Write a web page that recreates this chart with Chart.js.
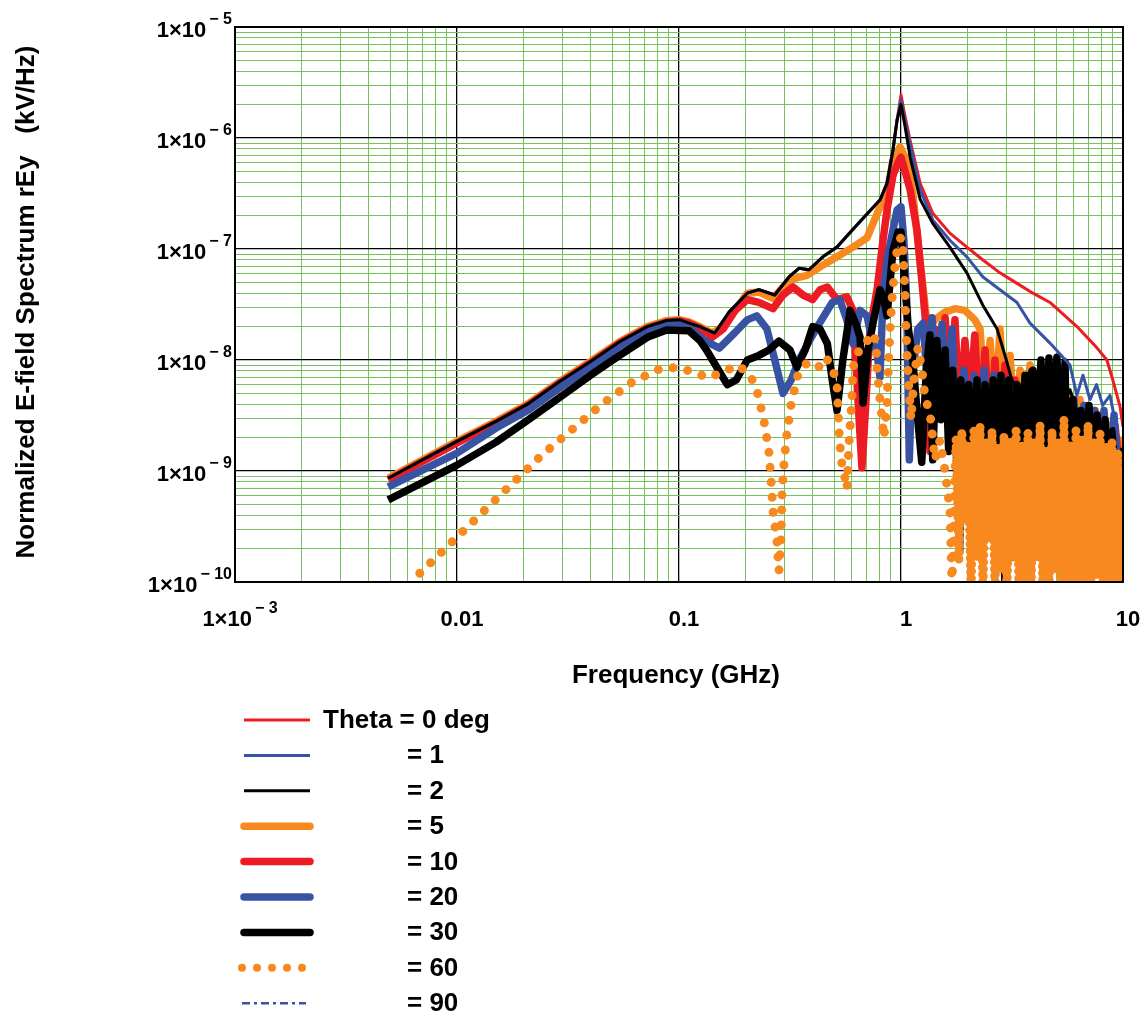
<!DOCTYPE html>
<html>
<head>
<meta charset="utf-8">
<script src="https://cdn.jsdelivr.net/npm/chart.js@4.4.0/dist/chart.umd.min.js"></script>
<style>
  html, body { margin: 0; padding: 0; background: #fff; }
  canvas { display: block; }
</style>
</head>
<body>
<canvas id="spectrum" width="1145" height="1014"></canvas>
<script>
// normalized E-field spectrum rEy (kV/Hz) against frequency (GHz), one trace per angle

const thetaLabels = ['Theta = 0 deg', '= 1', '= 2', '= 5', '= 10', '= 20', '= 30', '= 60', '= 90']

// the thin traces (0, 1, 2 deg) sit on top of each other up to the resonance
const riseF = [0.0049, 0.01, 0.015, 0.021, 0.029, 0.04, 0.054, 0.072, 0.088, 0.101,
  0.111, 0.124, 0.145, 0.168, 0.203, 0.229, 0.27, 0.313, 0.347, 0.385,
  0.445, 0.515, 0.608, 0.703, 0.804, 0.865, 0.92, 0.96]
const riseV = [8.6e-10, 1.85e-9, 2.8e-9, 4.05e-9, 6.4e-9, 9.7e-9, 1.46e-8, 2.0e-8, 2.27e-8, 2.3e-8,
  2.15e-8, 2.0e-8, 1.75e-8, 2.7e-8, 4.0e-8, 4.3e-8, 3.85e-8, 5.6e-8, 6.7e-8, 6.5e-8,
  8.5e-8, 1.04e-7, 1.51e-7, 2.07e-7, 2.76e-7, 3.9e-7, 7.8e-7, 1.45e-6]

const f0 = [1.0, 1.04, 1.098, 1.22, 1.39, 1.66, 1.98, 2.34, 2.79, 3.33, 3.93, 4.69, 6.2, 7.6, 8.46, 9.0, 9.7, 10]
const v0 = [2.44e-6, 1.61e-6, 9.6e-7, 3.9e-7, 2.1e-7, 1.39e-7, 1.04e-7, 7.96e-8, 6.1e-8, 4.9e-8, 4.0e-8, 3.3e-8, 2.0e-8, 1.3e-8, 1.0e-8, 6.6e-9, 3.8e-9, 2.5e-9]

const f1 = [1.0, 1.04, 1.10, 1.22, 1.39, 1.66, 1.98, 2.34, 2.79, 3.33, 3.81, 4.69, 5.36, 5.77, 6.2, 6.6, 7.1, 7.6, 8.1, 8.74, 9.4, 10]
const v1 = [2.2e-6, 1.45e-6, 8.6e-7, 3.4e-7, 1.83e-7, 1.2e-7, 8.5e-8, 5.6e-8, 4.3e-8, 3.3e-8, 2.15e-8, 1.42e-8, 1.06e-8, 9.0e-9, 4.8e-9, 7.3e-9, 4.4e-9, 6.0e-9, 3.9e-9, 4.8e-9, 2.3e-9, 5.5e-10]

const f2 = [1.0, 1.04, 1.10, 1.22, 1.39, 1.66, 1.98, 2.34, 2.71, 2.94, 3.16, 3.44, 3.81, 4.23, 4.69, 5.2, 5.77, 6.4, 7.1, 7.88, 8.74, 9.69]
const v2 = [2.0e-6, 1.31e-6, 6.7e-7, 2.8e-7, 1.7e-7, 1.04e-7, 6.1e-8, 3.1e-8, 1.9e-8, 1.1e-8, 6.6e-9, 4.8e-9, 8.1e-9, 4.4e-9, 6.6e-9, 3.5e-9, 5.4e-9, 2.9e-9, 1.9e-9, 1.0e-9, 5.5e-10, 2.4e-10]

const f5 = [0.0049, 0.01, 0.015, 0.021, 0.029, 0.04, 0.054, 0.072, 0.088, 0.101,
  0.111, 0.124, 0.141, 0.158, 0.179, 0.203, 0.229, 0.265, 0.316, 0.377,
  0.432, 0.515, 0.608, 0.703, 0.804, 0.865, 0.92, 0.99,
  1.06, 1.13, 1.19, 1.26, 1.32, 1.42, 1.58, 1.75, 1.94, 2.15,
  2.27, 2.39, 2.52, 2.65, 2.79, 2.94, 3.10, 3.26, 3.44, 3.62,
  3.81, 4.01, 4.23, 4.45, 4.69, 4.94, 5.20, 5.48, 5.77, 6.08,
  6.40, 6.74, 7.10, 7.48, 7.88, 8.30, 8.74, 9.20, 9.69, 10]
const v5 = [8.6e-10, 1.85e-9, 2.8e-9, 4.05e-9, 6.4e-9, 9.7e-9, 1.46e-8, 2.0e-8, 2.27e-8, 2.3e-8,
  2.2e-8, 2.0e-8, 1.75e-8, 2.0e-8, 2.8e-8, 4.0e-8, 4.1e-8, 3.6e-8, 5.3e-8, 5.8e-8,
  6.9e-8, 8.5e-8, 1.04e-7, 1.26e-7, 2.39e-7, 3.2e-7, 6.3e-7, 8.3e-7,
  6.3e-7, 3.2e-7, 1.2e-7, 4.3e-8, 1.9e-8, 2.3e-8, 2.7e-8, 2.9e-8, 2.8e-8, 2.3e-8,
  1.9e-8, 4.4e-9, 1.5e-8, 2.9e-9, 1.9e-8, 3.5e-9, 1.1e-8, 2.3e-9, 8.1e-9, 1.9e-9,
  9.0e-9, 2.3e-9, 7.3e-9, 1.9e-9, 6.6e-9, 1.5e-9, 5.4e-9, 1.9e-9, 4.8e-9, 1.5e-9,
  4.4e-9, 1.26e-9, 3.5e-9, 1.5e-9, 3.2e-9, 1.0e-9, 2.6e-9, 1.0e-9, 1.9e-9, 3.6e-10]

const f10 = [0.0049, 0.01, 0.015, 0.021, 0.029, 0.04, 0.054, 0.072, 0.088, 0.101,
  0.111, 0.124, 0.141, 0.158, 0.179, 0.203, 0.229, 0.265, 0.294, 0.326,
  0.362, 0.4, 0.432, 0.466, 0.515, 0.57, 0.608, 0.64, 0.667, 0.696,
  0.725, 0.78, 0.83, 0.865, 0.92, 0.98, 1.0, 1.04, 1.10, 1.18,
  1.24, 1.30,
  1.35, 1.42, 1.50, 1.58, 1.66, 1.75, 1.84, 1.94, 2.04, 2.15,
  2.27, 2.39, 2.52, 2.65, 2.79, 2.94, 3.10, 3.26, 3.44, 3.62,
  3.81, 4.01, 4.23, 4.45, 4.69, 4.94, 5.20, 5.48, 5.77, 6.08,
  6.40, 6.74, 7.10, 7.48, 7.88, 8.30, 8.74, 9.20, 9.69, 10]
const v10 = [8.3e-10, 1.79e-9, 2.71e-9, 3.93e-9, 6.2e-9, 9.4e-9, 1.42e-8, 1.94e-8, 2.2e-8, 2.25e-8,
  2.15e-8, 1.94e-8, 1.6e-8, 1.9e-8, 2.8e-8, 3.5e-8, 3.3e-8, 2.9e-8, 3.85e-8, 4.55e-8,
  3.85e-8, 3.5e-8, 4.3e-8, 4.55e-8, 3.5e-8, 3.7e-8, 2.8e-8, 4.4e-9, 1.07e-9, 4.4e-9,
  1.9e-8, 4.3e-8, 1.2e-7, 2.25e-7, 4.6e-7, 6.3e-7, 6.7e-7, 5.1e-7, 3.4e-7, 1.48e-7,
  5.3e-8, 1.9e-8,
  1.5e-9, 1.9e-8, 4.4e-9, 2.4e-8, 6.6e-9, 2.3e-8, 2.9e-9, 1.5e-8, 4.4e-9, 1.68e-8,
  2.3e-9, 1.23e-8, 1.9e-9, 1.0e-8, 1.5e-9, 9.0e-9, 2.3e-9, 6.6e-9, 1.6e-10, 6.0e-9,
  1.26e-9, 4.8e-9, 1.5e-9, 5.4e-9, 8.3e-10, 4.8e-9, 1.9e-9, 4.8e-9, 1.0e-9, 3.5e-9,
  1.26e-9, 3.9e-9, 1.0e-9, 3.5e-9, 8.3e-10, 2.9e-9, 1.0e-9, 2.6e-9, 1.0e-9, 8.3e-10]

const f20 = [0.0049, 0.01, 0.015, 0.021, 0.029, 0.04, 0.054, 0.072, 0.088, 0.101,
  0.111, 0.13, 0.152, 0.178, 0.203, 0.224, 0.249, 0.27, 0.294, 0.32,
  0.347, 0.414, 0.49, 0.53, 0.57, 0.608, 0.654, 0.703, 0.74, 0.78,
  0.804, 0.83, 0.865, 0.92, 0.96, 1.0, 1.03, 1.06, 1.09, 1.12,
  1.19, 1.26, 1.31, 1.38, 1.45, 1.53, 1.61, 1.70, 1.79, 1.84,
  1.92, 2.02, 2.13, 2.25, 2.37, 2.49, 2.62, 2.76, 2.91, 3.06,
  3.23, 3.40, 3.58, 3.77, 3.97, 4.18, 4.40, 4.64, 4.89, 5.15,
  5.42, 5.71, 6.01, 6.34, 6.67, 7.03, 7.40, 7.80, 8.21, 8.65,
  9.11, 9.59, 10]
const v20 = [7.2e-10, 1.45e-9, 2.44e-9, 3.55e-9, 5.6e-9, 8.6e-9, 1.33e-8, 1.82e-8, 2.07e-8, 2.1e-8,
  1.98e-8, 1.5e-8, 1.28e-8, 1.75e-8, 2.3e-8, 2.5e-8, 1.9e-8, 1.0e-8, 5.0e-9, 6.6e-9,
  1.0e-8, 1.9e-8, 3.3e-8, 3.5e-8, 2.3e-8, 1.4e-8, 2.8e-8, 2.5e-8, 1.5e-8, 1.15e-8,
  7.0e-9, 3.7e-8, 8.0e-8, 1.48e-7, 2.25e-7, 2.4e-7, 1.2e-7, 3.5e-8, 1.26e-9, 6.6e-9,
  1.9e-8, 2.15e-8, 6.6e-9, 2.4e-8, 5.4e-9, 2.1e-8, 4.4e-9, 1.9e-8, 1.26e-9, 1.9e-10,
  8.1e-9, 1.5e-9, 7.3e-9, 1.9e-9, 8.1e-9, 1.26e-9, 7.3e-9, 1.5e-9, 6.6e-9, 1.0e-9,
  6.0e-9, 5.5e-10, 5.4e-9, 1.26e-9, 6.0e-9, 8.3e-10, 4.8e-9, 1.0e-9, 5.4e-9, 5.5e-10,
  4.8e-9, 1.0e-9, 4.4e-9, 8.3e-10, 3.9e-9, 1.0e-9, 3.5e-9, 6.7e-10, 3.5e-9, 8.3e-10,
  3.2e-9, 6.7e-10, 5.5e-10]

const f30 = [0.0049, 0.01, 0.015, 0.021, 0.029, 0.04, 0.054, 0.072, 0.088, 0.101,
  0.111, 0.124, 0.133, 0.148, 0.165, 0.181, 0.203, 0.229, 0.254, 0.282,
  0.316, 0.34, 0.37, 0.4, 0.432, 0.466, 0.49, 0.515, 0.547, 0.59,
  0.627, 0.654, 0.675, 0.71, 0.748, 0.804, 0.838, 0.865, 0.92, 0.97,
  1.0, 1.03, 1.08, 1.13,
  1.19, 1.24, 1.30, 1.35, 1.39, 1.45, 1.51, 1.58, 1.64, 1.71,
  1.79, 1.86, 1.94, 2.02, 2.11, 2.20, 2.29, 2.39, 2.49, 2.60,
  2.71, 2.82, 2.94, 3.06, 3.20, 3.33, 3.47, 3.62, 3.77, 3.93,
  4.10, 4.27, 4.45, 4.64, 4.84, 5.04, 5.26, 5.48, 5.71, 5.95,
  6.20, 6.47, 6.74, 7.03, 7.32, 7.64, 7.96, 8.30, 8.65, 9.02,
  9.40, 9.79, 10]
const v30 = [5.5e-10, 1.13e-9, 1.82e-9, 2.9e-9, 4.6e-9, 7.3e-9, 1.1e-8, 1.6e-8, 1.86e-8, 1.84e-8,
  1.83e-8, 1.5e-8, 1.23e-8, 8.6e-9, 6.0e-9, 6.6e-9, 1.0e-8, 1.1e-8, 1.23e-8, 1.48e-8,
  1.23e-8, 8.6e-9, 1.23e-8, 2.0e-8, 1.9e-8, 1.4e-8, 6.6e-9, 3.5e-9, 1.0e-8, 2.8e-8,
  2.1e-8, 1.6e-8, 4.1e-9, 1.23e-8, 2.15e-8, 4.3e-8, 3.5e-8, 2.5e-8, 9.8e-8, 1.42e-7,
  1.42e-7, 6.5e-8, 1.9e-8, 1.0e-8,
  2.9e-9, 1.2e-9, 8.1e-9, 1.68e-8, 1.26e-9, 1.5e-8, 2.9e-9, 1.23e-8, 1.5e-9, 8.1e-9,
  1.0e-9, 6.6e-9, 1.9e-9, 6.0e-9, 1.26e-9, 6.6e-9, 1.9e-10, 6.0e-9, 1.0e-9, 6.6e-9,
  8.3e-10, 7.3e-9, 8e-11, 6.6e-9, 3.6e-10, 6.0e-9, 1.0e-9, 7.3e-9, 8.3e-10, 8.1e-9,
  1.26e-9, 1.0e-8, 1.0e-9, 1.04e-8, 1.5e-9, 1.06e-8, 8.3e-10, 9.6e-9, 8e-11, 4.4e-9,
  8e-11, 3.5e-9, 5.5e-10, 3.9e-9, 8.3e-10, 3.2e-9, 5.5e-10, 2.9e-9, 3.6e-10, 2.3e-9,
  2.4e-10, 1.5e-9, 3.6e-10]

const f60 = [0.0068, 0.0128, 0.0239, 0.045, 0.0614, 0.0838, 0.099, 0.116, 0.135, 0.158,
  0.184, 0.209, 0.224, 0.241, 0.254, 0.26, 0.265, 0.271, 0.276, 0.282,
  0.288, 0.291, 0.297, 0.306, 0.32, 0.344, 0.377, 0.423, 0.459, 0.494,
  0.515, 0.526, 0.537, 0.554, 0.571, 0.583, 0.601, 0.608, 0.634, 0.681,
  0.732, 0.771, 0.78, 0.804, 0.838, 0.865, 0.874, 0.892, 0.911, 0.94,
  0.969, 1.0, 1.021, 1.042, 1.053, 1.075, 1.109, 1.144, 1.193, 1.243,
  1.283, 1.351, 1.423, 1.498, 1.579, 1.662, 1.697,
  1.77, 1.825, 1.88, 1.94, 2.0, 2.07, 2.13, 2.2, 2.27, 2.34,
  2.41, 2.49, 2.57, 2.65, 2.73, 2.82, 2.91, 3.0, 3.1, 3.2,
  3.3, 3.4, 3.51, 3.62, 3.73, 3.85, 3.97, 4.1, 4.23, 4.36,
  4.5, 4.64, 4.79, 4.94, 5.1, 5.26, 5.42, 5.6, 5.77, 5.95,
  6.14, 6.34, 6.54, 6.74, 6.96, 7.18, 7.4, 7.64, 7.88, 8.13,
  8.38, 8.65, 8.92, 9.2, 9.49, 9.79, 10]
const v60 = [1.2e-10, 4.1e-10, 1.37e-9, 4.0e-9, 6.3e-9, 8.5e-9, 8.5e-9, 7.8e-9, 6.9e-9, 7.8e-9,
  9.0e-9, 7.3e-9, 5.4e-9, 2.9e-9, 1.5e-9, 8.1e-10, 4.4e-10, 3.1e-10, 2.4e-10, 1.26e-10,
  2.4e-10, 6.2e-10, 1.15e-9, 2.15e-9, 4.0e-9, 7.5e-9, 9.4e-9, 8.5e-9, 1.06e-8, 8.1e-9,
  6.0e-9, 2.3e-9, 1.26e-9, 9.6e-10, 6.9e-10, 1.75e-9, 4.4e-9, 8.5e-9, 1.16e-8, 1.28e-8,
  1.75e-8, 1.5e-8, 8.6e-9, 4.4e-9, 2.0e-9, 4.0e-9, 7.3e-9, 1.9e-8, 3.5e-8, 7.2e-8,
  1.09e-7, 1.28e-7, 9.8e-8, 4.3e-8, 1.9e-8, 7.6e-9, 2.9e-9, 6.6e-9, 1.3e-8, 8.1e-9,
  4.6e-9, 3.3e-9, 1.26e-9, 1.9e-9, 1.0e-9, 4.5e-10, 9e-11,
  1.9e-9, 1.6e-10, 2.3e-9, 3.6e-10, 1.7e-9, 8e-11, 2.3e-9, 1.6e-10, 2.6e-9, 8e-11,
  1.9e-9, 2.4e-10, 2.3e-9, 8e-11, 1.7e-9, 1.3e-10, 2.1e-9, 8e-11, 1.9e-9, 1.6e-10,
  2.45e-9, 8e-11, 1.7e-9, 1.0e-10, 2.2e-9, 8e-11, 1.9e-9, 1.6e-10, 2.6e-9, 8e-11,
  1.5e-9, 8e-11, 2.3e-9, 1.3e-10, 1.9e-9, 8e-11, 2.9e-9, 8e-11, 1.7e-9, 1.0e-10,
  2.3e-9, 8e-11, 1.9e-9, 8e-11, 2.6e-9, 8e-11, 1.9e-9, 1.15e-10, 2.3e-9, 8e-11,
  1.7e-9, 8e-11, 1.9e-9, 8e-11, 1.5e-9, 8e-11, 1.0e-9]

// 90 deg gives nothing inside the plotted range
const f90 = []
const v90 = []

const xTickVals = [0.001, 0.01, 0.1, 1, 10]
const xTickText = [['1×10', '− 3'], ['0.01', ''], ['0.1', ''], ['1', ''], ['10', '']]
const yTickVals = [1e-5, 1e-6, 1e-7, 1e-8, 1e-9, 1e-10]
const yTickText = [['1×10', '− 5'], ['1×10', '− 6'], ['1×10', '− 7'], ['1×10', '− 8'], ['1×10', '− 9'], ['1×10', '− 10']]

const red = '#ed1c24'
const blue = '#3953a4'
const black = '#000000'
const orange = '#f7891f'
const gridGreen = '#74c25c'
const thin = 3
const thick = 7.5

const FONT = "'Liberation Sans', Arial, sans-serif"
const tickFont = 'bold 22px ' + FONT
const supFont = 'bold 16px ' + FONT
const titleFont = 'bold 26px ' + FONT

const pts = (f, v) => f.map((x, i) => ({ x: x, y: v[i] }))

const isDecade = v => Math.abs(Math.log10(v) - Math.round(Math.log10(v))) < 1e-6

// 1..9 per decade, no 1.5 ticks
const logTicks = (lo, hi) => {
  let t = []
  for (let e = lo; e < hi; e++) {
    for (let k = 1; k < 10; k++) t.push({ value: k * Math.pow(10, e) })
  }
  t.push({ value: Math.pow(10, hi) })
  return t
}

const line = (label, data, color, width, order, extra) => Object.assign({
  label: label,
  data: data,
  borderColor: color,
  backgroundColor: color,
  borderWidth: width,
  pointRadius: 0,
  fill: false,
  tension: 0,
  clip: 0,
  borderJoinStyle: 'round',
  order: order
}, extra || {})

// lower order is drawn on top
const datasets = [
  line(thetaLabels[0], pts(riseF.concat(f0), riseV.concat(v0)), red, thin, 4),
  line(thetaLabels[1], pts(riseF.concat(f1), riseV.concat(v1)), blue, thin, 3),
  line(thetaLabels[2], pts(riseF.concat(f2), riseV.concat(v2)), black, thin, 2),
  line(thetaLabels[3], pts(f5, v5), orange, thick, 8),
  line(thetaLabels[4], pts(f10, v10), red, thick, 7),
  line(thetaLabels[5], pts(f20, v20), blue, thick, 6),
  line(thetaLabels[6], pts(f30, v30), black, thick, 5),
  line(thetaLabels[7], pts(f60, v60), orange, 9, 0, {
    borderDash: [0, 15],
    borderCapStyle: 'round',
    // the dense high-frequency part is packed much tighter
    segment: { borderDash: c => c.p0.parsed.x >= 1.75 ? [0, 7] : undefined }
  }),
  line(thetaLabels[8], pts(f90, v90), blue, 2.5, 1, { borderDash: [8, 4, 3, 4] })
]

function drawPower(ctx, parts, x, y, align) {
  ctx.font = tickFont
  const wBase = ctx.measureText(parts[0]).width
  ctx.font = supFont
  const wSup = parts[1] ? ctx.measureText(parts[1]).width + 3 : 0
  const total = wBase + wSup
  const left = align === 'right' ? x - total : x - total / 2
  ctx.textAlign = 'left'
  ctx.textBaseline = 'alphabetic'
  ctx.font = tickFont
  ctx.fillText(parts[0], left, y)
  if (parts[1]) {
    ctx.font = supFont
    ctx.fillText(parts[1], left + wBase + 3, y - 13)
  }
}

const decorations = {
  id: 'decorations',
  afterDraw(chart) {
    const ctx = chart.ctx
    const a = chart.chartArea
    const xs = chart.scales.x
    const ys = chart.scales.y
    ctx.save()

    ctx.strokeStyle = '#000'
    ctx.lineWidth = 2
    ctx.strokeRect(a.left, a.top, a.right - a.left, a.bottom - a.top)

    ctx.fillStyle = '#000'
    yTickVals.forEach((v, i) => drawPower(ctx, yTickText[i], 232, ys.getPixelForValue(v) + 10, 'right'))
    xTickVals.forEach((v, i) => drawPower(ctx, xTickText[i], xs.getPixelForValue(v) + 5, 626, 'center'))

    ctx.font = titleFont
    ctx.textAlign = 'center'
    ctx.textBaseline = 'alphabetic'
    ctx.fillText('Frequency (GHz)', 676, 683)

    ctx.save()
    ctx.translate(34, 302)
    ctx.rotate(-Math.PI / 2)
    ctx.fillText('Normalized E-field Spectrum rEy   (kV/Hz)', 0, 0)
    ctx.restore()

    // legend
    const top = 720
    const step = 35.4
    chart.data.datasets.forEach((ds, i) => {
      const y = top + i * step
      ctx.save()
      ctx.strokeStyle = ds.borderColor
      ctx.lineWidth = ds.borderCapStyle ? 8 : ds.borderWidth
      ctx.lineCap = ds.borderCapStyle || (ds.borderWidth > 5 ? 'round' : 'butt')
      ctx.setLineDash(ds.borderDash || [])
      ctx.beginPath()
      ctx.moveTo(ds.borderDash ? 242 : 244, y)
      ctx.lineTo(ds.borderDash ? 306 : 310, y)
      ctx.stroke()
      ctx.restore()
      ctx.font = titleFont
      ctx.textAlign = 'left'
      ctx.fillText(ds.label, i === 0 ? 323 : 407, y + 8)
    })

    ctx.restore()
  }
}

const gridColor = c => isDecade(c.tick.value) ? '#000000' : gridGreen
const gridWidth = c => isDecade(c.tick.value) ? 1.3 : 1

new Chart(document.getElementById('spectrum').getContext('2d'), {
  type: 'line',
  data: { datasets: datasets },
  options: {
    responsive: false,
    animation: false,
    events: [],
    layout: { padding: { left: 235, right: 22, top: 27, bottom: 432 } },
    plugins: { legend: { display: false }, tooltip: { enabled: false } },
    scales: {
      x: {
        type: 'logarithmic',
        min: 0.001,
        max: 10,
        afterBuildTicks: s => { s.ticks = logTicks(-3, 1) },
        afterFit: s => { s.height = 0 },
        ticks: { display: false, autoSkip: false },
        grid: { color: gridColor, lineWidth: gridWidth, drawTicks: false },
        border: { display: false }
      },
      y: {
        type: 'logarithmic',
        min: 1e-10,
        max: 1e-5,
        afterBuildTicks: s => { s.ticks = logTicks(-10, -5) },
        afterFit: s => { s.width = 0 },
        ticks: { display: false, autoSkip: false },
        grid: { color: gridColor, lineWidth: gridWidth, drawTicks: false },
        border: { display: false }
      }
    }
  },
  plugins: [decorations]
})
</script>
</body>
</html>
